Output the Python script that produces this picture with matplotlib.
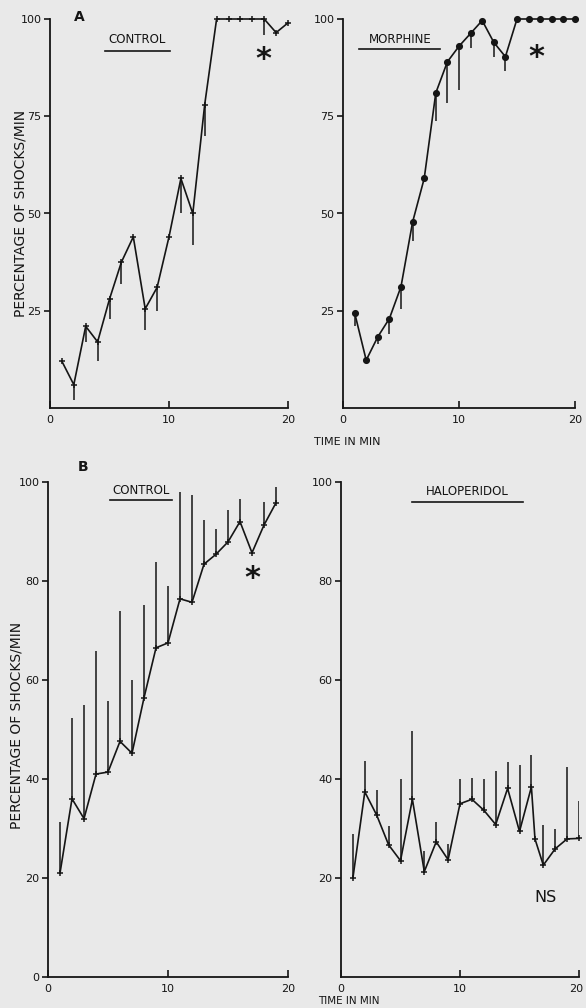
import numpy as np
import matplotlib
matplotlib.use("Agg")
import matplotlib.pyplot as plt
from matplotlib.transforms import ScaledTranslation

# panel A: control vs morphine (values in %, error bars drawn downward)
a_minutes = list(range(1, 21))
a_control = [12, 6, 21, 17, 28, 37.5, 44, 25.5, 31, 44, 59, 50, 78, 100, 100, 100, 100, 100, 96.5, 99]
a_control_low = [np.nan, 2, 17, 12, 23, 32, np.nan, 20, 25, np.nan, 50, 42, 70,
                 np.nan, np.nan, np.nan, np.nan, 96, np.nan, np.nan]
a_morphine = [24.5, 12.3, 18.3, 23, 31.2, 47.8, 59, 81, 89, 93, 96.3, 99.6, 94, 90.3,
              100, 100, 100, 100, 100, 100]
a_morphine_low = [21.2, np.nan, 16.4, 19, 25.4, 43, np.nan, 73.7, 78.4, 81.7, 92.5, np.nan, 90.3, 86.6,
                  np.nan, np.nan, np.nan, np.nan, np.nan, np.nan]

# panel B: control vs haloperidol (error bars drawn upward)
b_control_minutes = list(range(1, 20))
b_control = [21, 36, 32, 41, 41.4, 47.6, 45.2, 56.4, 66.5, 67.5, 76.4, 75.7, 83.4, 85.4, 87.9, 92, 85.7, 91.3, 95.8]
b_control_high = [31.3, 52.3, 55, 65.8, 55.7, 74, 60, 75.2, 83.8, 78.9, 98, 97.3, 92.4, 90.5, 94.3, 96.5,
                  np.nan, 96, 99]
b_halo_minutes = [1, 2, 3, 4, 5, 6, 7, 8, 9, 10, 11, 12, 13, 14, 15, 16, 16.3, 17, 18, 19, 20]
b_halo = [20, 37.4, 32.7, 26.7, 23.5, 35.9, 21.3, 27.3, 23.7, 35, 35.9, 33.7, 30.8, 38.1, 29.4, 38.4,
          27.9, 22.6, 25.9, 27.9, 28]
b_halo_high = [28.8, 43.7, 37.7, 30.6, 39.9, 49.7, 25.4, 31.4, 26.9, 40, 40.2, 40, 41.7, 43.5, 42.9, 44.9,
               np.nan, 30.8, 29.9, 42.5, 35.5]

INK = '#151515'
PAPER = '#e9e9e9'
W, H = 586, 1008

plt.rcParams['font.family'] = ['DejaVu Sans']

fig = plt.figure(figsize=(W / 100, H / 100), dpi=100, facecolor=PAPER)


def make_axes(left, right, top, bottom):
    ax = fig.add_axes([left / W, 1 - bottom / H, (right - left) / W, (bottom - top) / H])
    ax.set_facecolor(PAPER)
    for s in ['top', 'right']:
        ax.spines[s].set_visible(False)
    for s in ['left', 'bottom']:
        ax.spines[s].set_color(INK)
        ax.spines[s].set_linewidth(1.3)
    ax.set_xlim(0, 20)
    ax.set_ylim(0, 100)
    ax.set_xticks([0, 10, 20])
    ax.tick_params(axis='x', direction='in', length=5, width=1.2, colors=INK, labelsize=8, pad=5)
    ax.tick_params(axis='y', direction='out', length=4, width=1.2, colors=INK, labelsize=8, pad=2)
    return ax


def draw_series(ax, x, y, ends, marker, ms):
    x = np.asarray(x, dtype=float)
    y = np.asarray(y, dtype=float)
    ends = np.asarray(ends, dtype=float)
    ok = ~np.isnan(ends)
    ax.vlines(x[ok], y[ok], ends[ok], color=INK, lw=1.1, zorder=2)
    ax.plot(x, y, color=INK, lw=1.2, marker=marker, ms=ms, mew=1.1, mfc=INK, mec=INK,
            zorder=3, clip_on=False)


def title(ax, text, x0, x1, y, uy):
    ax.text((x0 + x1) / 2, y, text, ha='center', va='bottom', fontsize=8.5, color=INK)
    ax.plot([x0, x1], [uy, uy], color=INK, lw=1.2, clip_on=False)


# ---- panel A ----
ax1 = make_axes(50, 288, 19, 408)
ax1.set_yticks([25, 50, 75, 100])
draw_series(ax1, a_minutes, a_control, a_control_low, '+', 5)
title(ax1, 'CONTROL', 4.6, 10.1, 93.0, 91.8)
ax1.text(17.9, 89.5, '*', fontsize=22, fontweight='bold', ha='center', va='center', color=INK)
ax1.text(2.5, 100.5, 'A', fontsize=10, fontweight='bold', ha='center', va='center', color=INK)

ax2 = make_axes(343, 575, 19, 408)
ax2.set_yticks([25, 50, 75, 100])
draw_series(ax2, a_minutes, a_morphine, a_morphine_low, 'o', 4)
title(ax2, 'MORPHINE', 1.4, 8.4, 93.0, 92.2)
ax2.text(16.7, 90.0, '*', fontsize=22, fontweight='bold', ha='center', va='center', color=INK)

# ---- panel B ----
ax3 = make_axes(48, 288, 482, 977)
ax3.set_yticks([0, 20, 40, 60, 80, 100])
draw_series(ax3, b_control_minutes, b_control, b_control_high, '+', 5)
title(ax3, 'CONTROL', 5.2, 10.3, 97.0, 96.4)
ax3.text(17.0, 80.5, '*', fontsize=22, fontweight='bold', ha='center', va='center', color=INK)
ax3.text(2.9, 103, 'B', fontsize=10, fontweight='bold', ha='center', va='center', color=INK, clip_on=False)

ax4 = make_axes(341, 579, 482, 977)
ax4.set_yticks([20, 40, 60, 80, 100])
draw_series(ax4, b_halo_minutes, b_halo, b_halo_high, '+', 5)
title(ax4, 'HALOPERIDOL', 6.0, 15.3, 96.8, 96.0)
ax4.text(17.2, 16, 'NS', fontsize=11.5, ha='center', va='center', color=INK)
# keep the last tick label inside the page
last = ax4.get_xticklabels()[-1]
last.set_transform(last.get_transform() + ScaledTranslation(-3 / 100, 0, fig.dpi_scale_trans))

# axis titles
ylab = 'PERCENTAGE OF SHOCKS/MIN'
fig.text(21 / W, 1 - 213 / H, ylab, rotation=90, ha='center', va='center', fontsize=10, color=INK)
fig.text(17 / W, 1 - 725 / H, ylab, rotation=90, ha='center', va='center', fontsize=10, color=INK)
fig.text(347 / W, 1 - 442 / H, 'TIME IN MIN', ha='center', va='center', fontsize=8, color=INK)
fig.text(349 / W, 1 - 1001 / H, 'TIME IN MIN', ha='center', va='center', fontsize=7.5, color=INK)

fig.savefig('out.png', dpi=100, facecolor=PAPER)
